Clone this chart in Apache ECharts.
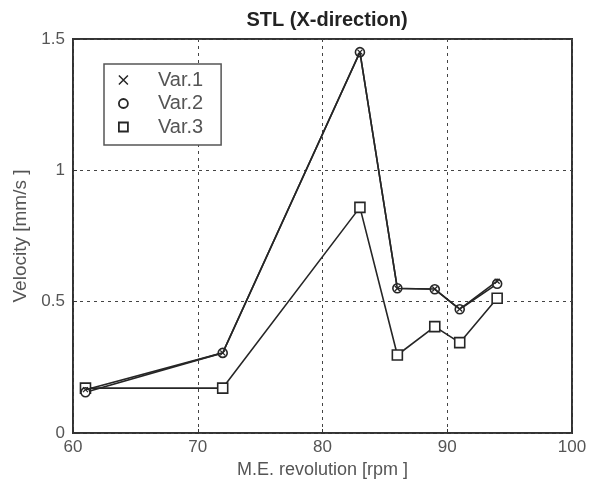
<!DOCTYPE html>
<html>
<head>
<meta charset="utf-8">
<script src="https://cdn.jsdelivr.net/npm/echarts@6/dist/echarts.min.js"></script>
<style>html,body{margin:0;padding:0;background:#fff}#c{width:590px;height:484px}</style>
</head>
<body>
<div id="c"></div>
<script>
// Data
const rpm = [61, 72, 83, 86, 89, 91, 94];
const var1 = [0.165, 0.305, 1.45, 0.55, 0.548, 0.472, 0.578];
const var2 = [0.155, 0.305, 1.45, 0.551, 0.547, 0.471, 0.568];
const var3 = [0.171, 0.171, 0.859, 0.297, 0.405, 0.344, 0.513];
const seriesNames = ['Var.1', 'Var.2', 'Var.3'];
const xTicks = [60, 70, 80, 90, 100];
const yTicks = [0, 0.5, 1, 1.5];

const ink = '#262626';
const font = 'Liberation Sans, Arial, sans-serif';
const crossPath = 'path://M0,0L10,10M0,10L10,0';

function pairs(xs, ys) { return xs.map((x, i) => [x, ys[i]]); }

const chart = echarts.init(document.getElementById('c'), null, {renderer: 'canvas'});
chart.setOption({
  backgroundColor: '#fff',
  animation: false,
  title: {
    text: 'STL (X-direction)',
    left: 322, top: 5, textAlign: 'center',
    textStyle: {fontFamily: font, fontSize: 20, fontWeight: 'bold', color: '#222'}
  },
  grid: {left: 73, top: 39, right: 18, bottom: 51, show: true, borderColor: '#333', borderWidth: 2, backgroundColor: 'transparent'},
  xAxis: {
    type: 'value', min: xTicks[0], max: xTicks[xTicks.length - 1], interval: 10,
    name: 'M.E. revolution [rpm ]', nameLocation: 'middle', nameGap: 26,
    nameTextStyle: {fontFamily: font, fontSize: 18, color: '#555'},
    axisLine: {show: false},
    axisTick: {show: true, inside: true, length: 4, lineStyle: {color: '#333'}},
    axisLabel: {fontFamily: font, fontSize: 17, color: '#555', margin: 6},
    splitLine: {show: true, lineStyle: {color: '#444', type: [3, 4], width: 1}}
  },
  yAxis: {
    type: 'value', min: yTicks[0], max: yTicks[yTicks.length - 1], interval: 0.5,
    name: 'Velocity [mm/s ]', nameLocation: 'middle', nameGap: 43,
    nameTextStyle: {fontFamily: font, fontSize: 19, color: '#555'},
    axisLine: {show: false},
    axisTick: {show: true, inside: true, length: 4, lineStyle: {color: '#333'}},
    axisLabel: {fontFamily: font, fontSize: 17, color: '#555', margin: 8},
    splitLine: {show: true, lineStyle: {color: '#444', type: [3, 4], width: 1}}
  },
  legend: {
    orient: 'vertical', left: 104, top: 64,
    backgroundColor: '#fff', borderColor: '#555', borderWidth: 1.5, borderRadius: 0,
    padding: [6, 18, 8, 14], itemGap: 3.5, itemWidth: 9, itemHeight: 9,
    textStyle: {fontFamily: font, fontSize: 20, color: '#555', padding: [0, 0, 0, 25]},
    data: [
      {name: seriesNames[0], icon: crossPath, itemStyle: {color: ink, borderColor: ink, borderWidth: 1.5}},
      {name: seriesNames[1], icon: 'circle', itemStyle: {color: '#fff', borderColor: ink, borderWidth: 1.8}},
      {name: seriesNames[2], icon: 'rect', itemStyle: {color: '#fff', borderColor: ink, borderWidth: 1.8}}
    ]
  },
  series: [
    {
      name: seriesNames[2], type: 'line', data: pairs(rpm, var3), z: 2,
      symbol: 'rect', symbolSize: 10, showAllSymbol: true,
      lineStyle: {color: ink, width: 1.6},
      itemStyle: {color: '#fff', borderColor: ink, borderWidth: 1.6}
    },
    {
      name: seriesNames[1], type: 'line', data: pairs(rpm, var2), z: 3,
      symbol: 'circle', symbolSize: 9, showAllSymbol: true,
      lineStyle: {color: ink, width: 1.6},
      itemStyle: {color: '#fff', borderColor: ink, borderWidth: 1.6}
    },
    {
      name: seriesNames[0], type: 'line', data: pairs(rpm, var1), z: 4,
      symbol: crossPath, symbolSize: 5, showAllSymbol: true,
      lineStyle: {color: ink, width: 1.6},
      itemStyle: {color: ink, borderColor: ink, borderWidth: 1.3}
    }
  ]
});
</script>
</body>
</html>
